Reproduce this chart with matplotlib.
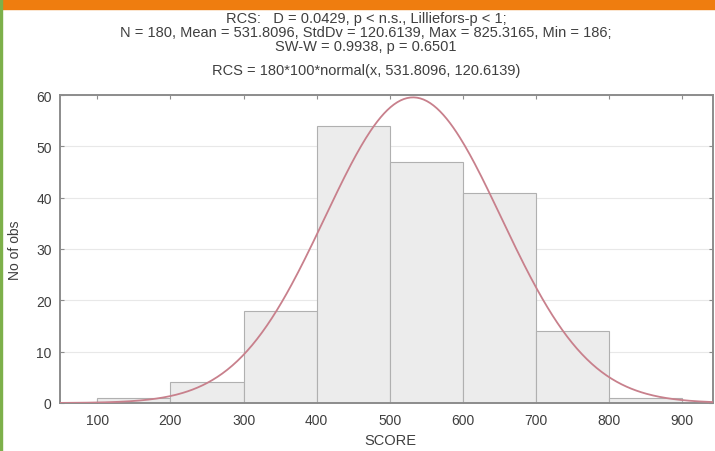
import numpy as np
import matplotlib
matplotlib.use("Agg")
import matplotlib.pyplot as plt

# ---------- data ----------
bin_edges = [100, 200, 300, 400, 500, 600, 700, 800, 900]
counts = [1, 4, 18, 54, 47, 41, 14, 1]
n_obs = 180
bin_width = 100
mean = 531.8096
std = 120.6139
x_ticks = [100, 200, 300, 400, 500, 600, 700, 800, 900]
y_ticks = [0, 10, 20, 30, 40, 50, 60]

TEXT_COL = "#3f3f3f"
SPINE_COL = "#8c8c8c"
BAR_FACE = "#ececec"
BAR_EDGE = "#b0b0b0"
CURVE_COL = "#c8808c"
ORANGE = "#ef7d0f"
GREEN = "#7db04a"

plt.rcParams["font.family"] = ["Liberation Sans", "DejaVu Sans"]

fig = plt.figure(figsize=(7.15, 4.52), dpi=100)
fig.patch.set_facecolor("white")

# decorative frame bits of the screenshot
fig.patches.append(plt.Rectangle((0, 1 - 9.5 / 452), 1, 9.5 / 452,
                                 transform=fig.transFigure, color=ORANGE, zorder=5))
fig.patches.append(plt.Rectangle((0, 0), 1.6 / 715, 1,
                                 transform=fig.transFigure, color=GREEN, zorder=5))

ax = fig.add_axes([60 / 715, 1 - 404 / 452, 653 / 715, 308 / 452])

lefts = bin_edges[:-1]
ax.bar(lefts, counts, width=bin_width, align="edge", color=BAR_FACE,
       edgecolor=BAR_EDGE, linewidth=0.8, zorder=2)

xs = np.linspace(50, 950, 400)
ys = n_obs * bin_width * np.exp(-0.5 * ((xs - mean) / std) ** 2) / (std * np.sqrt(2 * np.pi))
ax.plot(xs, ys, color=CURVE_COL, linewidth=1.3, zorder=3)

ax.set_xlim(49, 942)
ax.set_ylim(0, 60)
ax.set_xticks(x_ticks)
ax.set_yticks(y_ticks)
ax.yaxis.grid(True, color="#e8e8e8", linewidth=0.8)
ax.set_axisbelow(True)
ax.tick_params(direction="in", top=True, right=True, length=3,
               colors=SPINE_COL, labelcolor=TEXT_COL, labelsize=10)
ax.tick_params(axis="x", pad=7)
ax.tick_params(axis="y", pad=6)
for sp in ax.spines.values():
    sp.set_edgecolor(SPINE_COL)
    sp.set_linewidth(1.4)

fig.text(390 / 715, 1 - 441 / 452, "SCORE", ha="center", va="center",
         fontsize=10.5, color=TEXT_COL)
fig.text(15 / 715, 1 - 250 / 452, "No of obs", ha="center", va="center",
         rotation=90, fontsize=10, color=TEXT_COL)

cx = 366 / 715
title_lines = [
    (19, "RCS:   D = 0.0429, p < n.s., Lilliefors-p < 1;"),
    (33, "N = 180, Mean = 531.8096, StdDv = 120.6139, Max = 825.3165, Min = 186;"),
    (47, "SW-W = 0.9938, p = 0.6501"),
    (71, "RCS = 180*100*normal(x, 531.8096, 120.6139)"),
]
for ypix, txt in title_lines:
    fig.text(cx, 1 - ypix / 452, txt, ha="center", va="center",
             fontsize=10.5, color=TEXT_COL)

fig.savefig("out.png", dpi=100, facecolor="white")
